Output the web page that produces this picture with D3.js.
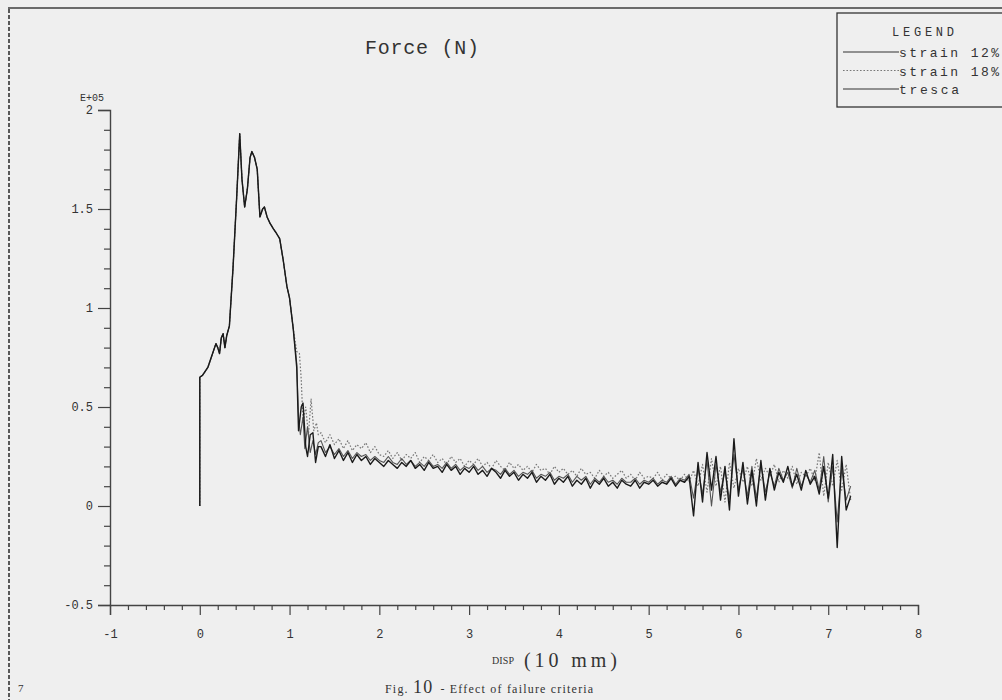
<!DOCTYPE html>
<html><head><meta charset="utf-8">
<script src="https://cdn.jsdelivr.net/npm/d3@7"></script>
<style>html,body{margin:0;padding:0;background:#efefef;overflow:hidden}svg{display:block}</style>
</head><body><svg id="c" width="1002" height="700"></svg>
<script>
// ---- axis ticks ----
const xTicks = [-1,0,1,2,3,4,5,6,7,8];
const xTickLabels = ["-1","0","1","2","3","4","5","6","7","8"];
const xMinorTicks = [-0.8,-0.6,-0.4,-0.2,0.2,0.4,0.6,0.8,1.2,1.4,1.6,1.8,2.2,2.4,2.6,2.8,3.2,3.4,3.6,3.8,4.2,4.4,4.6,4.8,5.2,5.4,5.6,5.8,6.2,6.4,6.6,6.8,7.2,7.4,7.6,7.8];
const yTicks = [-0.5,0,0.5,1,1.5,2];
const yTickLabels = ["-0.5","0","0.5","1","1.5","2"];
const yMinorTicks = [-0.4,-0.3,-0.2,-0.1,0.1,0.2,0.3,0.4,0.6,0.7,0.8,0.9,1.1,1.2,1.3,1.4,1.6,1.7,1.8,1.9];
const seriesNames = ["strain 12%","strain 18%","tresca"];

// ---- shared loading part (all three criteria coincide) ----
const riseDisp  = [0,0,0.03,0.06,0.09,0.12,0.15,0.18,0.20,0.22,0.24,0.26,0.28,0.30,0.33,0.37,0.41,0.445,0.47,0.50,0.53,0.56,0.58,0.61,0.64,0.67,0.70,0.72,0.75,0.78,0.82,0.85,0.89,0.93,0.97,1.00,1.04];
const riseForce = [0,0.65,0.66,0.68,0.70,0.74,0.78,0.82,0.80,0.77,0.85,0.87,0.80,0.86,0.91,1.20,1.55,1.88,1.65,1.51,1.60,1.76,1.79,1.76,1.70,1.46,1.50,1.51,1.46,1.43,1.40,1.38,1.35,1.24,1.11,1.05,0.90];

// ---- failure drop ----
const dropDispTresca  = [1.08,1.10,1.13,1.15,1.18,1.20,1.23,1.26,1.29,1.32];
const dropForceTresca = [0.70,0.38,0.50,0.52,0.30,0.25,0.36,0.37,0.22,0.30];
const dropDisp12  = [1.08,1.10,1.12,1.15,1.17,1.20,1.23,1.26,1.29,1.32];
const dropForce12 = [0.72,0.45,0.36,0.45,0.29,0.40,0.27,0.33,0.26,0.32];
const dropDisp18  = [1.08,1.11,1.13,1.15,1.18,1.21,1.24,1.27,1.30,1.32];
const dropForce18 = [0.78,0.77,0.64,0.42,0.50,0.36,0.54,0.38,0.42,0.36];

// ---- post-failure tail ----
const tailDisp = [1.35,1.40,1.45,1.50,1.55,1.60,1.65,1.70,1.75,1.80,1.85,1.90,1.95,2.00,
2.05,2.10,2.15,2.20,2.25,2.30,2.35,2.40,2.45,2.50,2.55,2.60,2.65,2.70,2.75,2.80,2.85,2.90,2.95,3.00,
3.05,3.10,3.15,3.20,3.25,3.30,3.35,3.40,3.45,3.50,3.55,3.60,3.65,3.70,3.75,3.80,3.85,3.90,3.95,4.00,
4.05,4.10,4.15,4.20,4.25,4.30,4.35,4.40,4.45,4.50,4.55,4.60,4.65,4.70,4.75,4.80,4.85,4.90,4.95,5.00,
5.05,5.10,5.15,5.20,5.25,5.30,5.35,5.40,5.45,5.50,5.55,5.60,5.65,5.70,5.75,5.80,5.85,5.90,5.95,6.00,
6.05,6.10,6.15,6.20,6.25,6.30,6.35,6.40,6.45,6.50,6.55,6.60,6.65,6.70,6.75,6.80,6.85,6.90,6.95,7.00,
7.05,7.10,7.15,7.20,7.25];
const tailTresca = [0.30,0.25,0.31,0.24,0.28,0.23,0.27,0.22,0.26,0.23,0.25,0.21,0.24,0.22,
0.20,0.23,0.21,0.19,0.22,0.20,0.23,0.19,0.21,0.18,0.22,0.19,0.20,0.17,0.21,0.18,0.20,0.16,0.19,0.17,
0.20,0.16,0.18,0.15,0.19,0.17,0.14,0.18,0.15,0.17,0.13,0.16,0.14,0.17,0.12,0.15,0.13,0.16,0.11,0.14,
0.12,0.15,0.10,0.13,0.11,0.14,0.09,0.13,0.11,0.14,0.10,0.12,0.09,0.13,0.11,0.10,0.13,0.09,0.12,0.11,
0.13,0.10,0.12,0.11,0.14,0.10,0.13,0.12,0.15,-0.05,0.22,0.02,0.27,0.08,0.25,0.03,0.20,-0.02,0.34,0.05,
0.22,0.01,0.18,0.00,0.23,0.03,0.19,0.08,0.17,0.12,0.20,0.10,0.16,0.08,0.18,0.11,0.15,0.06,0.20,0.04,
0.26,-0.21,0.25,-0.02,0.05];
const tail12 = [0.33,0.27,0.30,0.26,0.29,0.25,0.28,0.24,0.27,0.25,0.26,0.23,0.25,0.23,
0.22,0.25,0.22,0.21,0.24,0.21,0.23,0.20,0.22,0.20,0.23,0.20,0.21,0.19,0.22,0.19,0.21,0.18,0.20,0.19,
0.21,0.18,0.20,0.17,0.19,0.18,0.16,0.19,0.16,0.18,0.15,0.17,0.16,0.18,0.14,0.16,0.15,0.17,0.13,0.15,
0.14,0.16,0.12,0.15,0.13,0.15,0.11,0.14,0.12,0.15,0.12,0.13,0.11,0.14,0.12,0.12,0.14,0.11,0.13,0.12,
0.14,0.11,0.13,0.12,0.15,0.11,0.14,0.13,0.16,0.04,0.19,0.06,0.23,0.00,0.21,0.07,0.18,0.03,0.26,0.08,
0.19,0.05,0.20,0.04,0.21,0.07,0.17,0.10,0.19,0.13,0.17,0.09,0.19,0.10,0.16,0.12,0.18,0.08,0.25,0.02,
0.20,-0.08,0.19,0.03,0.10];
const tail18 = [0.37,0.32,0.36,0.31,0.34,0.29,0.33,0.28,0.31,0.29,0.32,0.27,0.30,0.26,
0.25,0.28,0.24,0.27,0.23,0.26,0.24,0.27,0.22,0.25,0.23,0.26,0.22,0.24,0.21,0.25,0.22,0.24,0.20,0.23,
0.21,0.24,0.20,0.22,0.19,0.23,0.20,0.18,0.22,0.19,0.21,0.18,0.20,0.17,0.21,0.18,0.19,0.16,0.20,0.17,
0.19,0.16,0.18,0.15,0.19,0.16,0.17,0.14,0.18,0.15,0.17,0.14,0.16,0.18,0.14,0.16,0.13,0.17,0.14,0.15,
0.14,0.17,0.13,0.16,0.14,0.15,0.13,0.16,0.12,0.18,0.10,0.21,0.07,0.24,0.10,0.20,0.02,0.22,0.09,0.19,
0.12,0.20,0.10,0.24,0.13,0.19,0.15,0.21,0.12,0.18,0.14,0.20,0.11,0.17,0.15,0.19,0.13,0.27,0.05,0.22,
0.10,0.23,0.08,0.21,0.03];

function build(dx, dy, tx, ty) {
  const pts = [];
  riseDisp.forEach((d,i)=>pts.push([d, riseForce[i]]));
  dx.forEach((d,i)=>pts.push([d, dy[i]]));
  tx.forEach((d,i)=>pts.push([d, ty[i]]));
  return pts;
}
const series = [
  {name: seriesNames[1], pts: build(dropDisp18, dropForce18, tailDisp, tail18), color:"#777", width:1.2, dash:"1.6,1.8"},
  {name: seriesNames[0], pts: build(dropDisp12, dropForce12, tailDisp, tail12), color:"#555", width:1.1, dash:null},
  {name: seriesNames[2], pts: build(dropDispTresca, dropForceTresca, tailDisp, tailTresca), color:"#1a1a1a", width:1.4, dash:null}
];

const svg = d3.select("#c");
const x = d3.scaleLinear().domain([-1,8]).range([110,918]);
const y = d3.scaleLinear().domain([-0.5,2]).range([605,110]);
const mono = "'Liberation Mono','DejaVu Sans Mono',monospace";
const serif = "'Liberation Serif','DejaVu Serif',serif";

// page frame
svg.append("line").attr("x1",8).attr("x2",1002).attr("y1",8).attr("y2",8).attr("stroke","#6a6a6a").attr("stroke-width",2);
svg.append("line").attr("x1",9).attr("x2",9).attr("y1",9).attr("y2",700).attr("stroke","#333").attr("stroke-width",1.6).attr("stroke-dasharray","4,2");

// axes
const gy = svg.append("g").attr("transform","translate(110,0)");
gy.call(d3.axisLeft(y).tickValues(yTicks).tickSize(12).tickPadding(5).tickFormat((d,i)=>yTickLabels[i]));
const gyMinor = svg.append("g").attr("transform","translate(110,0)");
gyMinor.call(d3.axisLeft(y).tickValues(yMinorTicks).tickSize(6).tickFormat(""));
const gx = svg.append("g").attr("transform","translate(0,605)");
gx.call(d3.axisBottom(x).tickValues(xTicks).tickSize(10).tickPadding(14).tickFormat((d,i)=>xTickLabels[i]));
const gxMinor = svg.append("g").attr("transform","translate(0,605)");
gxMinor.call(d3.axisBottom(x).tickValues(xMinorTicks).tickSize(5).tickFormat(""));
[gy,gyMinor,gx,gxMinor].forEach(g=>{
  g.selectAll(".domain").attr("stroke","#444").attr("stroke-width",1.4);
  g.selectAll(".tick line").attr("stroke","#444").attr("stroke-width",1.2);
  g.selectAll("text").attr("font-family",mono).attr("font-size",12).attr("fill","#333");
});
gyMinor.select(".domain").remove(); gxMinor.select(".domain").remove();

// lines
const line = d3.line().x(d=>x(d[0])).y(d=>y(d[1]));
series.forEach(s=>{
  svg.append("path").datum(s.pts).attr("d",line).attr("fill","none")
    .attr("stroke",s.color).attr("stroke-width",s.width)
    .attr("stroke-dasharray",s.dash).attr("stroke-linejoin","round");
});

// texts
svg.append("text").attr("x",365).attr("y",54).attr("font-family",mono).attr("font-size",20)
  .attr("fill","#333").attr("textLength",114).text("Force (N)");
svg.append("text").attr("x",104).attr("y",101).attr("text-anchor","end").attr("font-family",mono)
  .attr("font-size",10).attr("fill","#333").text("E+05");
svg.append("text").attr("x",492).attr("y",664).attr("font-family",serif).attr("font-size",10)
  .attr("fill","#333").attr("textLength",22).text("DISP");
svg.append("text").attr("x",524).attr("y",667).attr("font-family",serif).attr("font-size",20)
  .attr("fill","#333").attr("textLength",93).text("(10 mm)");
const cap = svg.append("text").attr("x",385).attr("y",693).attr("font-family",serif).attr("font-size",12)
  .attr("letter-spacing",1.2).attr("fill","#333");
cap.append("tspan").text("Fig. ");
cap.append("tspan").attr("font-size",18).text("10");
cap.append("tspan").attr("dx",7).text("- Effect of failure criteria");
svg.append("text").attr("x",18).attr("y",692).attr("font-family",serif).attr("font-size",11).attr("fill","#333").text("7");

// legend
const lg = svg.append("g");
lg.append("rect").attr("x",837).attr("y",13).attr("width",200).attr("height",94)
  .attr("fill","none").attr("stroke","#333").attr("stroke-width",1.3);
lg.append("text").attr("x",892).attr("y",36).attr("font-family",mono).attr("font-size",12)
  .attr("fill","#333").attr("textLength",62).text("LEGEND");
// order in legend: strain 12%, strain 18%, tresca
const legendOrder = [series[1], series[0], series[2]];
legendOrder.forEach((s,i)=>{
  const yy = 52 + i*18.5;
  lg.append("line").attr("x1",843).attr("x2",899).attr("y1",yy).attr("y2",yy)
    .attr("stroke", s.name==="strain 18%" ? "#777" : "#333").attr("stroke-width",1.1)
    .attr("stroke-dasharray", s.dash);
  lg.append("text").attr("x",899).attr("y",yy+5).attr("font-family",mono).attr("font-size",13)
    .attr("fill","#333").attr("textLength", s.name.length*10).text(s.name);
});
</script>
</body></html>
